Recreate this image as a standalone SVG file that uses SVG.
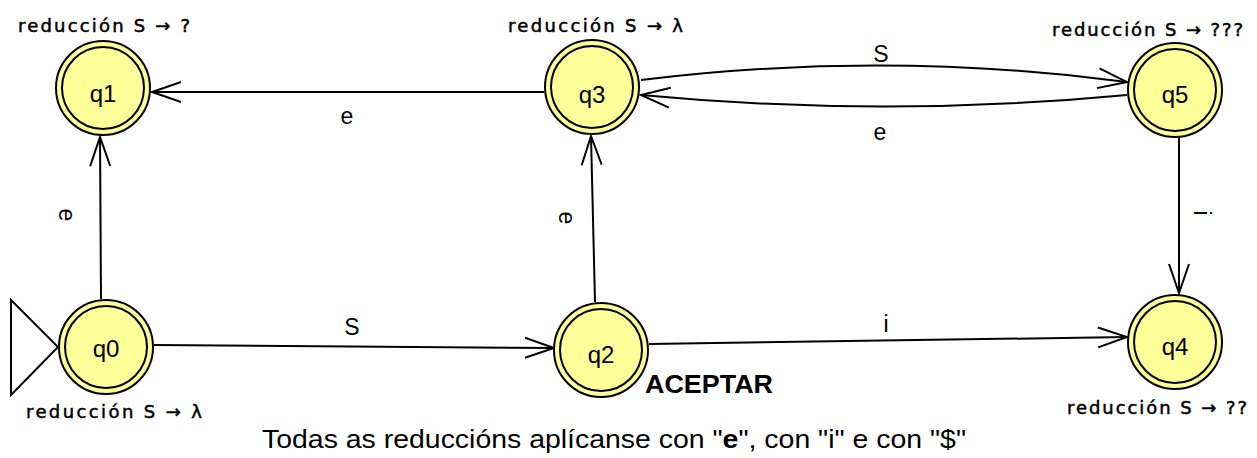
<svg xmlns="http://www.w3.org/2000/svg" width="1257" height="458" viewBox="0 0 1257 458">
<defs>
<marker id="arr" markerUnits="userSpaceOnUse" markerWidth="40" markerHeight="30" viewBox="-32 -15 40 30" refX="0" refY="0" orient="auto">
<path d="M-29,-10 L0,0 L-29,10" fill="none" stroke="#000" stroke-width="2"/>
</marker>
</defs>
<style>
.outer{fill:#ffff99;stroke:#000;stroke-width:2}
.inner{fill:none;stroke:#000;stroke-width:2}
.st{font-family:"Liberation Sans",Arial,sans-serif;font-size:24px;text-anchor:middle;fill:#000}
.note{font-family:"DejaVu Sans","Liberation Sans",sans-serif;font-size:18px;fill:#000;stroke:#000;stroke-width:0.5}
.edge{fill:none;stroke:#000;stroke-width:2;marker-end:url(#arr)}
.lbl{font-family:"Liberation Sans",Arial,sans-serif;font-size:23px;text-anchor:middle;fill:#000}
</style>
<rect width="1257" height="458" fill="#fff"/>
<g id="connectors">
<line class="edge" x1="101" y1="299" x2="100" y2="137"/>
<line class="edge" x1="595" y1="302" x2="591" y2="136"/>
<line class="edge" x1="544" y1="92" x2="152" y2="92"/>
<line class="edge" x1="154" y1="345" x2="554" y2="348"/>
<line class="edge" x1="649" y1="344" x2="1127" y2="337"/>
<line class="edge" x1="1179" y1="138" x2="1179" y2="293"/>
<path class="edge" d="M641,80 Q884,50 1127,82"/>
<path class="edge" d="M1127,95 Q884,118 641,95"/>
<text class="lbl" x="881" y="62">S</text>
<text class="lbl" x="880" y="140">e</text>
<text class="lbl" x="347" y="124">e</text>
<text class="lbl" x="352" y="335">S</text>
<text class="lbl" x="886" y="332">i</text>
<text class="lbl" transform="translate(67,215) rotate(90)" y="8">e</text>
<text class="lbl" transform="translate(567,218) rotate(90)" y="8">e</text>
<text class="lbl" transform="translate(1202,213) rotate(90)" y="8">i</text>
</g>
<g id="start">
<polygon points="11,300 58,347 11,395" fill="#fff" stroke="#000" stroke-width="2"/>
</g>
<g id="q0">
<circle class="outer" cx="106" cy="347" r="47"/>
<circle class="inner" cx="106" cy="347" r="41"/>
<text class="st" x="106" y="357">q0</text>
<text class="note" x="26" y="418" textLength="176" lengthAdjust="spacing">reducción S → λ</text>
</g>
<g id="q1">
<circle class="outer" cx="103" cy="88" r="47"/>
<circle class="inner" cx="103" cy="88" r="41"/>
<text class="st" x="103" y="102">q1</text>
<text class="note" x="18" y="32" textLength="172" lengthAdjust="spacing">reducción S → ?</text>
</g>
<g id="q2">
<circle class="outer" cx="601" cy="350" r="47"/>
<circle class="inner" cx="601" cy="350" r="41"/>
<text class="st" x="601" y="363">q2</text>
<text x="645" y="393" font-family="Liberation Sans,Arial,sans-serif" font-size="26" font-weight="bold" textLength="128" lengthAdjust="spacingAndGlyphs">ACEPTAR</text>
</g>
<g id="q3">
<circle class="outer" cx="592" cy="87" r="47"/>
<circle class="inner" cx="592" cy="87" r="41"/>
<text class="st" x="592" y="103">q3</text>
<text class="note" x="508" y="32" textLength="175" lengthAdjust="spacing">reducción S → λ</text>
</g>
<g id="q4">
<circle class="outer" cx="1175" cy="342" r="47"/>
<circle class="inner" cx="1175" cy="342" r="41"/>
<text class="st" x="1175" y="355">q4</text>
<text class="note" x="1067" y="414" textLength="180" lengthAdjust="spacing">reducción S → ??</text>
</g>
<g id="q5">
<circle class="outer" cx="1175" cy="90" r="47"/>
<circle class="inner" cx="1175" cy="90" r="41"/>
<text class="st" x="1175" y="103">q5</text>
<text class="note" x="1052" y="36" textLength="191" lengthAdjust="spacing">reducción S → ???</text>
</g>
<g id="caption">
<text x="262" y="448" font-family="Liberation Sans,Arial,sans-serif" font-size="26" textLength="704" lengthAdjust="spacingAndGlyphs">Todas as reduccións aplícanse con "<tspan font-weight="bold">e</tspan>", con "i" e con "$"</text>
</g>
</svg>
